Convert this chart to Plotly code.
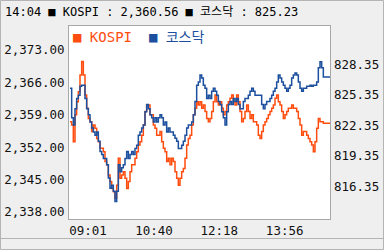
import plotly.graph_objects as go
import pandas as pd

# ---- data ----
kospi = [
    2357.5, 2356.8, 2353.2, 2359.0, 2361.8, 2364.0, 2367.6, 2370.5, 2367.6, 2363.3,
    2360.4, 2358.2, 2357.5, 2355.4, 2356.8, 2356.1, 2353.9, 2353.2, 2351.8, 2351.8,
    2351.0, 2348.9, 2348.2, 2346.0, 2344.6, 2343.1, 2342.4, 2341.0, 2343.8, 2349.6,
    2345.3, 2346.0, 2346.7, 2345.3, 2343.1, 2344.6, 2346.7, 2348.2, 2348.2, 2349.6,
    2351.0, 2352.5, 2353.2, 2354.6, 2356.8, 2359.7, 2361.1, 2361.1, 2359.0, 2359.0,
    2356.8, 2356.1, 2354.6, 2354.6, 2355.4, 2353.2, 2351.8, 2351.0,
    2348.9, 2349.6, 2348.2, 2349.6, 2348.9, 2346.7, 2345.3, 2343.8, 2345.3, 2346.7,
    2347.4, 2349.6, 2352.5, 2353.9, 2354.6, 2356.8, 2359.0, 2360.4, 2361.8, 2361.1,
    2361.8, 2360.4, 2361.1, 2359.7, 2358.2, 2357.5, 2358.2, 2359.7, 2361.8, 2363.3,
    2361.8, 2361.1, 2361.8, 2360.4, 2359.0, 2359.7, 2361.1, 2361.8, 2362.6, 2363.3,
    2361.8, 2361.1, 2363.3, 2361.8, 2359.7, 2357.5, 2358.2, 2359.7, 2361.1, 2359.7,
    2358.2, 2359.0, 2357.5, 2357.5, 2356.8, 2354.6, 2353.9,
    2355.4, 2356.8, 2357.5, 2358.2, 2359.0, 2359.7, 2360.4, 2361.1, 2362.6, 2363.3,
    2361.8, 2361.1, 2359.7, 2358.2, 2359.0, 2359.7, 2360.4, 2360.4, 2361.1, 2360.4,
    2360.4, 2359.7, 2358.2, 2356.8, 2354.6, 2355.4, 2355.4, 2354.6, 2353.9, 2353.2,
    2352.5, 2351.0, 2353.2, 2356.1, 2358.2, 2357.5, 2357.5, 2357.2, 2357.2, 2357.2,
    2357.2, 2357.2,
]
kosdaq = [
    826.0, 823.1, 822.4, 824.0, 825.0, 825.3, 826.2, 826.3, 826.3, 825.0,
    824.0, 823.4, 822.7, 822.1, 821.7, 821.4, 821.7, 820.8, 819.8, 819.5,
    819.1, 819.1, 818.5, 817.2, 816.2, 816.5, 815.9, 814.9, 815.9, 818.5,
    817.8, 818.2, 818.5, 819.1, 819.8, 819.1, 819.5, 819.8, 819.5, 820.1,
    820.4, 821.4, 821.7, 822.1, 822.4, 823.7, 824.4, 824.0, 823.4, 823.1,
    822.7, 823.1, 822.7, 823.1, 823.4, 823.1, 822.4, 822.7,
    821.7, 822.1, 821.7, 821.7, 821.4, 821.1, 820.8, 820.1, 820.1, 820.4,
    820.8, 821.4, 822.1, 822.4, 822.4, 822.7, 823.4, 824.7, 826.3, 826.6,
    827.3, 827.0, 826.3, 826.0, 825.0, 825.3, 825.0, 825.7, 826.0, 825.7,
    825.3, 824.7, 824.4, 823.7, 823.1, 822.4, 823.7, 824.4, 824.7, 824.4,
    825.0, 824.7, 825.0, 824.4, 824.0, 824.0, 824.7, 825.0, 825.0, 825.3,
    825.7, 826.0, 825.7, 825.3, 825.3, 825.3, 825.3,
    824.4, 824.0, 824.4, 824.7, 824.7, 825.0, 825.3, 825.7, 826.0, 826.6,
    827.3, 827.0, 826.6, 826.3, 826.0, 825.7, 826.0, 826.3, 827.0, 827.3,
    827.5, 827.3, 826.6, 826.0, 825.7, 826.0, 826.0, 826.2, 826.2, 826.3,
    826.2, 826.3, 826.3, 826.6, 828.0, 828.6, 828.0, 827.1, 827.1, 827.1,
    827.1, 827.1,
]
series_names = ["KOSPI", "코스닥"]
kospi_ticks = [2338, 2345, 2352, 2359, 2366, 2373]
kosdaq_ticks = [816.35, 819.35, 822.35, 825.35, 828.35]
time_ticks = ["09:01", "10:40", "12:18", "13:56"]
header_time = "14:04"
kospi_now = 2360.56
kosdaq_now = 825.23
day = "2024-01-02"
first_time = "08:34:00"
sample_step = "150s"

times = pd.date_range(f"{day} {first_time}", periods=len(kospi), freq=sample_step)

ORANGE = "#ff4d0f"
BLUE = "#1c4f9e"
FONT = "DejaVu Sans Mono, Noto Sans CJK KR"

fig = go.Figure()
fig.add_trace(go.Scatter(x=times, y=kospi, mode="lines", line=dict(color=ORANGE, width=1.5, shape="hv"),
                         name=series_names[0], yaxis="y"))
fig.add_trace(go.Scatter(x=times, y=kosdaq, mode="lines", line=dict(color=BLUE, width=1.5, shape="hv"),
                         name=series_names[1], yaxis="y2"))

fig.update_layout(
    width=384, height=250,
    margin=dict(l=69, r=54, t=26, b=31),
    paper_bgcolor="#efefef",
    plot_bgcolor="#ffffff",
    showlegend=False,
    font=dict(family=FONT, size=12, color="#111111"),
    xaxis=dict(
        type="date", automargin=False,
        range=[pd.Timestamp(f"{day} 08:32:30"), pd.Timestamp(f"{day} 15:04:00")],
        tickvals=[pd.Timestamp(f"{day} {t}") for t in time_ticks],
        tickformat="%H:%M",
        showgrid=False, zeroline=False,
        showline=True, mirror=True, linecolor="#a8a8a8", linewidth=1,
        ticks="", ticklabelstandoff=0,
        tickfont=dict(size=12.5),
    ),
    yaxis=dict(
        automargin=False,
        range=[2336.49, 2378.19],
        tickvals=kospi_ticks,
        tickformat=",.2f",
        showgrid=False, zeroline=False,
        showline=True, mirror=True, linecolor="#a8a8a8", linewidth=1,
        ticks="", ticklabelstandoff=1,
        tickfont=dict(size=12.5),
    ),
    yaxis2=dict(
        automargin=False,
        range=[813.18, 832.10],
        tickvals=kosdaq_ticks,
        tickformat=".2f",
        overlaying="y", side="right",
        showgrid=False, zeroline=False, showline=False,
        ticks="", ticklabelstandoff=3,
        tickfont=dict(size=12.5),
    ),
)

plot_w = 384 - 69 - 54
plot_h = 250 - 26 - 31

def px_x(p):
    return (p - 69) / plot_w

def px_y(p):
    return (250 - 31 - p) / plot_h

header = (f"{header_time} ■ KOSPI : {kospi_now:,.2f} ■ {series_names[1]} : {kosdaq_now:,.2f}")
fig.add_annotation(text=header, xref="paper", yref="paper", x=px_x(3), y=px_y(12),
                   xanchor="left", yanchor="middle", showarrow=False,
                   font=dict(family=FONT, size=12, color="#000000"))

legend_text = (f"<span style='color:{ORANGE}'>■ {series_names[0]}</span>  "
               f"<span style='color:{BLUE}'>■ {series_names[1]}</span>")
fig.add_annotation(text=legend_text, xref="paper", yref="paper", x=px_x(71), y=px_y(37),
                   xanchor="left", yanchor="middle", showarrow=False,
                   font=dict(family=FONT, size=14))

# frame lines of the widget
fig.add_shape(type="rect", xref="paper", yref="paper", x0=px_x(0.5), x1=px_x(383.5),
              y0=px_y(249.5), y1=px_y(0.5), line=dict(color="#b4b4b4", width=1), layer="below")
fig.add_shape(type="line", xref="paper", yref="paper", x0=px_x(0.5), x1=px_x(383.5),
              y0=px_y(238.5), y1=px_y(238.5), line=dict(color="#b4b4b4", width=1))

fig.write_html("out.html")
